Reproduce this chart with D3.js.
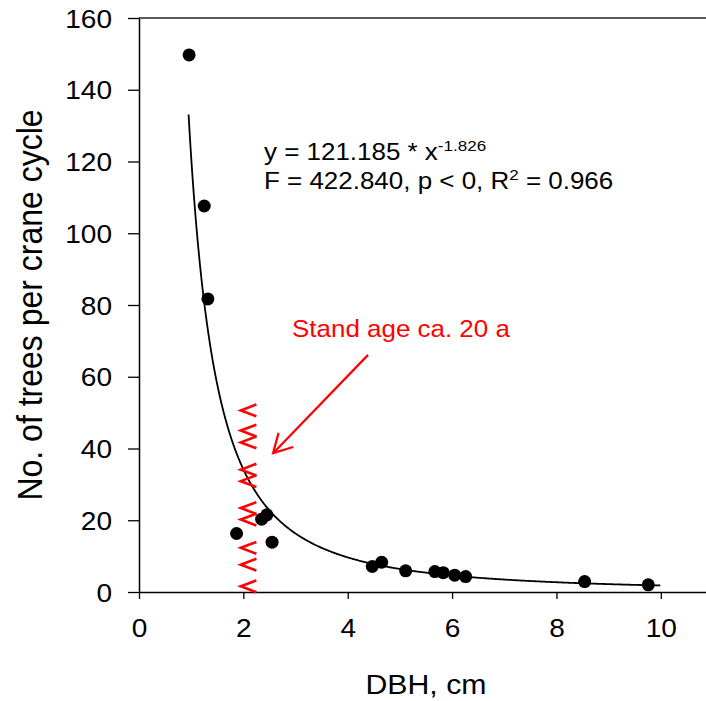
<!DOCTYPE html>
<html>
<head>
<meta charset="utf-8">
<script src="https://cdn.jsdelivr.net/npm/d3@7"></script>
<style>
  body { margin: 0; background: #fff; }
  text { font-family: "Liberation Sans", Arial, sans-serif; fill: #000; }
</style>
</head>
<body>
<script>
const width = 706;
const height = 701;

// measured points
const dbh = [0.96, 1.25, 1.32, 1.87, 2.35, 2.45, 2.55, 4.47, 4.65, 5.11, 5.67, 5.83, 6.05, 6.26, 8.54, 9.76];
const trees = [149.7, 107.6, 81.7, 16.3, 20.3, 21.5, 13.9, 7.1, 8.3, 5.9, 5.7, 5.4, 4.7, 4.3, 2.9, 2.0];

const xTicks = [0, 2, 4, 6, 8, 10];
const yTicks = [0, 20, 40, 60, 80, 100, 120, 140, 160];

// fitted power curve, as printed on the chart
const fitA = 121.185;
const fitB = -1.826;
const fitRange = [0.95, 10];

// red "stand age" marker: chevron centres and x extent
const chevronY = [50.6, 45.0, 41.7, 34.1, 30.9, 23.4, 20.2, 12.3, 7.6, 1.6];
const chevronX = [1.95, 2.25];
const chevronHalf = 1.65;

const arrowFrom = [4.39, 66.1];
const arrowTo = [2.57, 38.7];

const stretch = 1.1; // text in the original is a bit wide

const x = d3.scaleLinear().domain([0, 11]).range([139, 713]);
const y = d3.scaleLinear().domain([0, 160]).range([592, 18]);

const svg = d3
  .select("body")
  .append("svg")
  .attr("width", width)
  .attr("height", height);

// top frame line (no right side visible, chart is cut there)
svg
  .append("line")
  .attr("x1", x(0))
  .attr("x2", width)
  .attr("y1", y(160))
  .attr("y2", y(160))
  .attr("stroke", "#222")
  .attr("stroke-width", 1.5);

const xAxis = svg
  .append("g")
  .attr("transform", `translate(0,${y(0)})`)
  .call(d3.axisBottom(x).tickValues(xTicks).tickSize(7).tickSizeOuter(0));

xAxis.select(".domain").attr("stroke-width", 1.5);
xAxis.selectAll(".tick line").attr("stroke-width", 1.3);
xAxis
  .selectAll(".tick text")
  .attr("y", null)
  .attr("dy", null)
  .attr("font-size", 25.5)
  .attr("text-anchor", "middle")
  .attr("transform", `translate(0,45) scale(${stretch},1)`);

const yAxis = svg
  .append("g")
  .attr("transform", `translate(${x(0)},0)`)
  .call(d3.axisLeft(y).tickValues(yTicks).tickSize(11).tickSizeOuter(0));

yAxis.select(".domain").attr("stroke-width", 1.5);
yAxis.selectAll(".tick line").attr("stroke-width", 1.3);
yAxis
  .selectAll(".tick text")
  .attr("x", null)
  .attr("dy", "0.36em")
  .attr("font-size", 25.5)
  .attr("text-anchor", "end")
  .attr("transform", `translate(-27,0) scale(${stretch},1)`);

svg.selectAll(".tick text").attr("fill", "#000").attr("font-family", null);

// axis titles
svg
  .append("text")
  .attr("transform", `translate(${(x(0) + x(11)) / 2},694) scale(${stretch},1)`)
  .attr("text-anchor", "middle")
  .attr("font-size", 27.5)
  .text("DBH, cm");

svg
  .append("text")
  .attr("transform", `translate(42,${(y(0) + y(160)) / 2}) scale(${stretch},1) rotate(-90)`)
  .attr("text-anchor", "middle")
  .attr("font-size", 32)
  .text("No. of trees per crane cycle");

// fitted curve
const curveX = d3.range(fitRange[0], fitRange[1] + 0.001, 0.02);
const line = d3
  .line()
  .x((d) => x(d))
  .y((d) => y(fitA * Math.pow(d, fitB)));

svg
  .append("path")
  .datum(curveX)
  .attr("d", line)
  .attr("fill", "none")
  .attr("stroke", "#000")
  .attr("stroke-width", 1.8);

// chevrons
svg
  .append("g")
  .selectAll("path")
  .data(chevronY)
  .join("path")
  .attr("d", (d) =>
    d3.line()([
      [x(chevronX[1]), y(d + chevronHalf)],
      [x(chevronX[0]), y(d)],
      [x(chevronX[1]), y(d - chevronHalf)],
    ])
  )
  .attr("fill", "none")
  .attr("stroke", "#ff0000")
  .attr("stroke-width", 2.6);

// data points
svg
  .append("g")
  .selectAll("circle")
  .data(dbh)
  .join("circle")
  .attr("cx", (d) => x(d))
  .attr("cy", (d, i) => y(trees[i]))
  .attr("r", 6.5)
  .attr("fill", "#000");

// arrow
const ax0 = x(arrowFrom[0]);
const ay0 = y(arrowFrom[1]);
const ax1 = x(arrowTo[0]);
const ay1 = y(arrowTo[1]);
const ang = Math.atan2(ay0 - ay1, ax0 - ax1);
const headLen = 21;
const headAng = (29 * Math.PI) / 180;

const arrow = svg
  .append("g")
  .attr("stroke", "#ff0000")
  .attr("stroke-width", 2.2)
  .attr("fill", "none");
arrow
  .append("path")
  .attr("d", d3.line()([[ax0, ay0], [ax1, ay1]]));
arrow
  .append("path")
  .attr(
    "d",
    d3.line()([
      [ax1 + headLen * Math.cos(ang - headAng), ay1 + headLen * Math.sin(ang - headAng)],
      [ax1, ay1],
      [ax1 + headLen * Math.cos(ang + headAng), ay1 + headLen * Math.sin(ang + headAng)],
    ])
  );

svg
  .append("text")
  .attr("transform", `translate(292,337) scale(${stretch},1)`)
  .attr("font-size", 23.6)
  .style("fill", "#ff0000")
  .text("Stand age ca. 20 a");

// equation
const eq1 = svg
  .append("text")
  .attr("transform", `translate(264,160) scale(${stretch},1)`)
  .attr("font-size", 23.6);
eq1.append("tspan").text("y = 121.185 * x");
eq1
  .append("tspan")
  .attr("font-size", 15.5)
  .attr("dy", -9)
  .text("-1.826");

const eq2 = svg
  .append("text")
  .attr("transform", `translate(264,189) scale(${stretch},1)`)
  .attr("font-size", 23.6);
eq2.append("tspan").text("F = 422.840, p < 0, R");
eq2.append("tspan").attr("font-size", 15.5).attr("dy", -9).text("2");
eq2.append("tspan").attr("dy", 9).text(" = 0.966");
</script>
</body>
</html>
